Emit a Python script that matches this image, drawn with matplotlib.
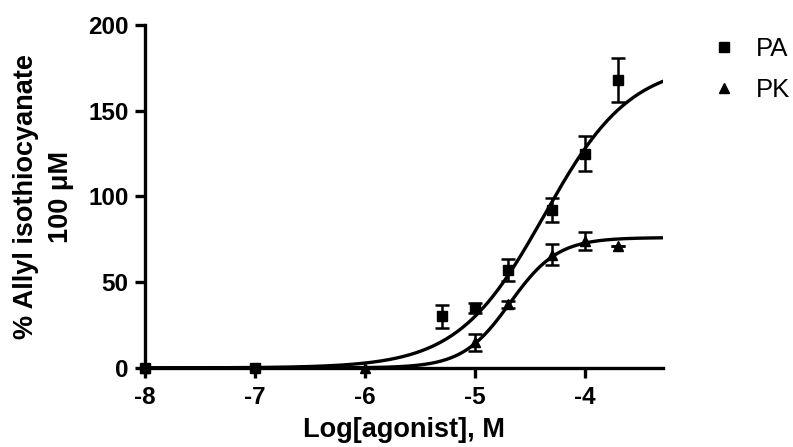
import numpy as np
import matplotlib.pyplot as plt
from matplotlib.lines import Line2D

plt.rcParams['font.family'] = ['Liberation Sans', 'DejaVu Sans']
plt.rcParams['axes.unicode_minus'] = False

# measured responses (% of allyl isothiocyanate 100 uM response)
pa_logx = [-8, -7, -5.3, -5, -4.7, -4.3, -4, -3.7]
pa_mean = [0, 0, 30, 35, 57, 92, 125, 168]
pa_sem = [0, 0, 6.5, 3, 6.5, 7, 10, 13]

pk_logx = [-8, -6, -5, -4.7, -4.3, -4, -3.7]
pk_mean = [0, 0, 15, 37, 66, 74, 71]
pk_sem = [0, 0, 5, 2, 6, 5, 0]

# sigmoidal dose-response fits: (top, logEC50, hill slope)
pa_fit = (178, -4.37, 1.1)
pk_fit = (76, -4.68, 2.0)


def sigmoid(x, top, logec50, hill):
    return top / (1 + 10 ** ((logec50 - x) * hill))


fig = plt.figure(figsize=(7.93, 4.47), dpi=100)
ax = fig.add_axes([0.183, 0.177, 0.653, 0.767])

x_fit = np.linspace(-8, -3.29, 300)
ax.plot(x_fit, sigmoid(x_fit, *pa_fit), color='black', lw=2.4, zorder=2)
ax.plot(x_fit, sigmoid(x_fit, *pk_fit), color='black', lw=2.4, zorder=2)

ax.errorbar(pk_logx, pk_mean, yerr=pk_sem, fmt='^', color='black', ms=7.5,
            capsize=5, elinewidth=1.8, capthick=1.8, clip_on=False, zorder=3)
ax.errorbar(pa_logx, pa_mean, yerr=pa_sem, fmt='s', color='black', ms=7,
            capsize=5, elinewidth=1.8, capthick=1.8, clip_on=False, zorder=4)

ax.set_xlim(-8, -3.29)
ax.set_ylim(0, 200)
ax.set_xticks([-8, -7, -6, -5, -4])
ax.set_yticks([0, 50, 100, 150, 200])

for s in ['top', 'right']:
    ax.spines[s].set_visible(False)
for s in ['left', 'bottom']:
    ax.spines[s].set_linewidth(2.4)
ax.tick_params(width=2.4, length=7, labelsize=17.5)
ax.tick_params(axis='x', pad=6)
ax.tick_params(axis='y', pad=5)
for lbl in ax.get_xticklabels() + ax.get_yticklabels():
    lbl.set_fontweight('bold')

ax.set_xlabel('Log[agonist], M', fontsize=19.5, fontweight='bold', labelpad=6)
ax.set_ylabel('% Allyl isothiocyanate\n100 \u03bcM', fontsize=19.5, fontweight='bold',
              labelpad=10, linespacing=1.45)

handles = [Line2D([], [], ls='none', marker='s', color='black', ms=7),
           Line2D([], [], ls='none', marker='^', color='black', ms=7.5)]
ax.legend(handles, ['PA', 'PK'], loc='upper left', bbox_to_anchor=(0.897, 0.917),
          bbox_transform=fig.transFigure, frameon=False, fontsize=18.5,
          handletextpad=0.72, labelspacing=0.66, handlelength=1.0,
          borderpad=0, borderaxespad=0)

fig.savefig('out.png', dpi=100)
